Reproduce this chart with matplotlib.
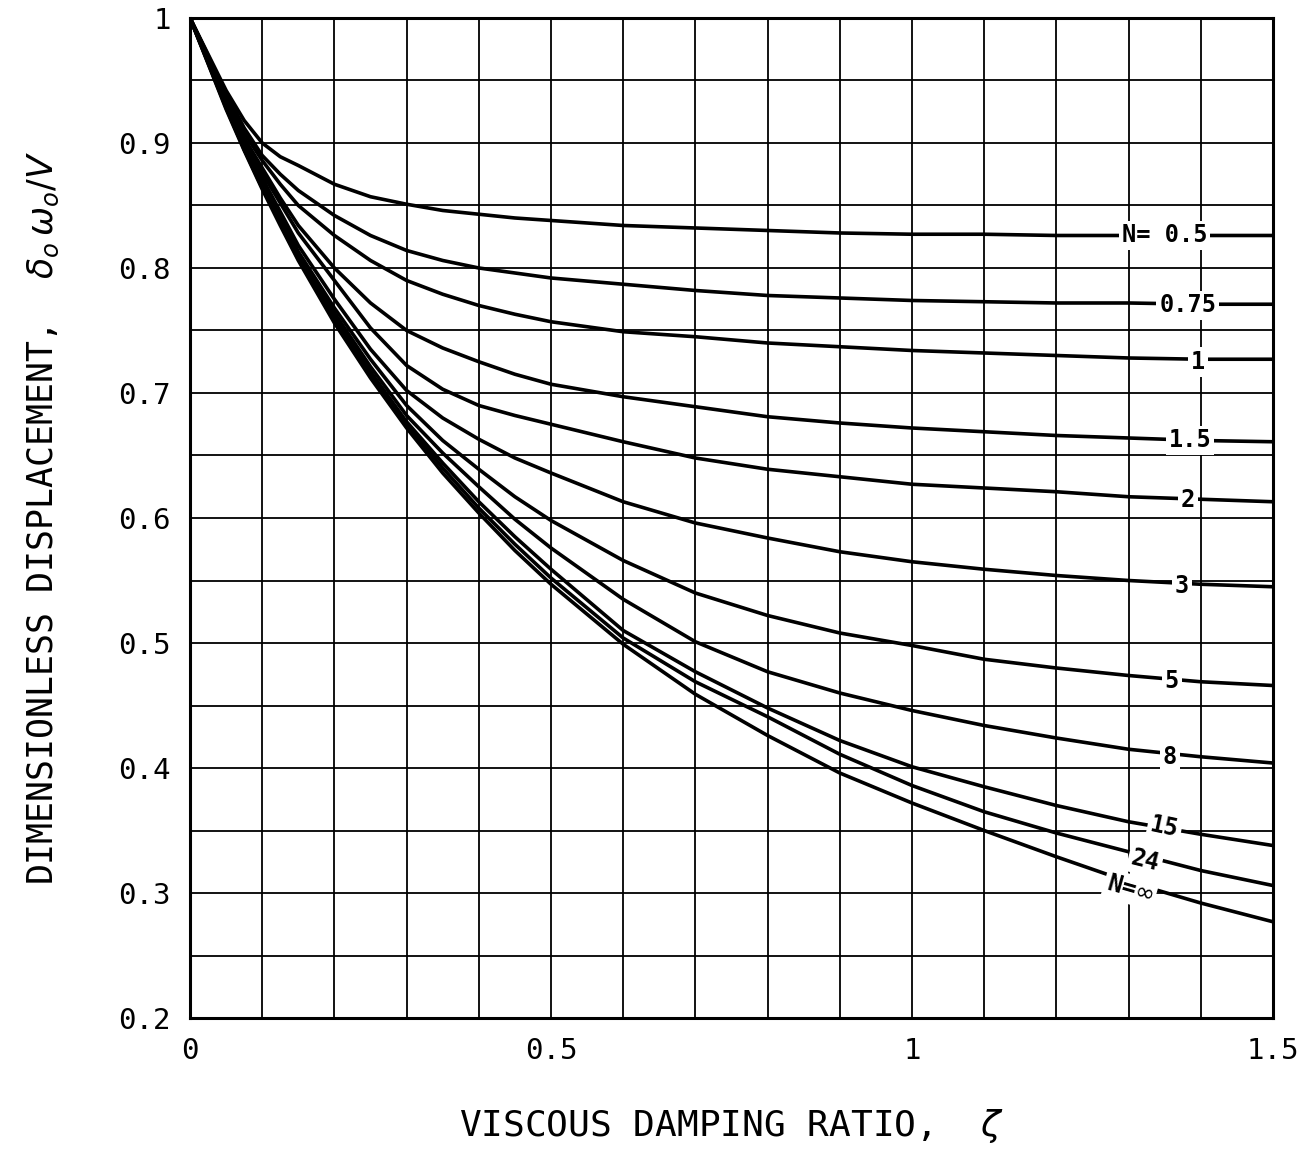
import numpy as np
import matplotlib
matplotlib.use('Agg')
import matplotlib.pyplot as plt

zeta = [0, 0.05, 0.075, 0.1, 0.125, 0.15, 0.2, 0.25, 0.3, 0.35, 0.4, 0.45, 0.5, 0.6, 0.7, 0.8, 0.9, 1.0, 1.1, 1.2, 1.3, 1.4, 1.5]

n_05 = [1.0, 0.942, 0.918, 0.900, 0.889, 0.882, 0.867, 0.857, 0.851, 0.846, 0.843, 0.840, 0.838, 0.834, 0.832, 0.830, 0.828, 0.827, 0.827, 0.826, 0.826, 0.826, 0.826]
n_075 = [1.0, 0.940, 0.912, 0.890, 0.875, 0.862, 0.842, 0.826, 0.814, 0.806, 0.800, 0.796, 0.792, 0.787, 0.782, 0.778, 0.776, 0.774, 0.773, 0.772, 0.772, 0.771, 0.771]
n_1 = [1.0, 0.939, 0.908, 0.886, 0.867, 0.850, 0.826, 0.806, 0.790, 0.779, 0.770, 0.763, 0.757, 0.749, 0.745, 0.740, 0.737, 0.734, 0.732, 0.730, 0.728, 0.727, 0.727]
n_15 = [1.0, 0.937, 0.904, 0.880, 0.856, 0.834, 0.800, 0.772, 0.750, 0.736, 0.725, 0.715, 0.707, 0.697, 0.689, 0.681, 0.676, 0.672, 0.669, 0.666, 0.664, 0.662, 0.661]
n_2 = [1.0, 0.935, 0.901, 0.876, 0.852, 0.828, 0.790, 0.752, 0.722, 0.703, 0.690, 0.682, 0.675, 0.661, 0.648, 0.639, 0.633, 0.627, 0.624, 0.621, 0.617, 0.615, 0.613]
n_3 = [1.0, 0.933, 0.899, 0.872, 0.845, 0.818, 0.775, 0.735, 0.702, 0.680, 0.663, 0.648, 0.636, 0.613, 0.596, 0.584, 0.573, 0.565, 0.559, 0.554, 0.550, 0.547, 0.545]
n_5 = [1.0, 0.931, 0.897, 0.868, 0.841, 0.813, 0.768, 0.727, 0.690, 0.662, 0.639, 0.617, 0.598, 0.566, 0.540, 0.522, 0.508, 0.498, 0.487, 0.480, 0.474, 0.469, 0.466]
n_8 = [1.0, 0.930, 0.896, 0.866, 0.839, 0.810, 0.764, 0.721, 0.682, 0.652, 0.625, 0.599, 0.576, 0.535, 0.501, 0.477, 0.460, 0.446, 0.434, 0.424, 0.415, 0.409, 0.404]
n_15c = [1.0, 0.929, 0.895, 0.865, 0.837, 0.808, 0.761, 0.717, 0.677, 0.644, 0.613, 0.585, 0.559, 0.510, 0.477, 0.448, 0.422, 0.401, 0.385, 0.370, 0.357, 0.347, 0.338]
n_24 = [1.0, 0.928, 0.895, 0.864, 0.836, 0.807, 0.759, 0.715, 0.675, 0.640, 0.608, 0.579, 0.552, 0.504, 0.469, 0.441, 0.411, 0.386, 0.365, 0.348, 0.333, 0.318, 0.306]
n_inf = [1.0, 0.927, 0.894, 0.863, 0.834, 0.806, 0.756, 0.712, 0.672, 0.636, 0.604, 0.574, 0.547, 0.499, 0.459, 0.426, 0.396, 0.372, 0.350, 0.329, 0.309, 0.292, 0.277]

curves = [n_05, n_075, n_1, n_15, n_2, n_3, n_5, n_8, n_15c, n_24, n_inf]
labels = ['N= 0.5', '0.75', '1', '1.5', '2', '3', '5', '8', '15', '24', 'N=$\\infty$']
label_x = [1.350, 1.382, 1.396, 1.385, 1.382, 1.374, 1.360, 1.357, 1.350, 1.323, 1.302]
label_y = [0.826, 0.770, 0.725, 0.662, 0.614, 0.546, 0.470, 0.409, 0.353, 0.326, 0.303]
label_rot = [0, 0, 0, 0, 0, 0, 0, 0, -12, -14, -16]

mono = 'DejaVu Sans Mono'

fig = plt.figure(figsize=(13.06, 11.52), dpi=100)
ax = fig.add_axes([0.1455, 0.1163, 0.8292, 0.8681])

for y in curves:
    ax.plot(zeta, y, color='black', lw=2.6, solid_capstyle='round', solid_joinstyle='round', zorder=3)

for txt, lx, ly, rot in zip(labels, label_x, label_y, label_rot):
    ax.text(lx, ly, txt, fontsize=17, family=mono, fontweight='bold', ha='center', va='center',
            rotation=rot, zorder=4,
            bbox=dict(facecolor='white', edgecolor='none', pad=2))

ax.set_xlim(0, 1.5)
ax.set_ylim(0.2, 1.0)
ax.set_xticks(np.arange(0, 1.51, 0.1), minor=True)
ax.set_yticks(np.arange(0.2, 1.001, 0.05), minor=True)
ax.set_xticks([0, 0.5, 1, 1.5])
ax.set_xticklabels(['0', '0.5', '1', '1.5'])
ax.set_yticks([0.2, 0.3, 0.4, 0.5, 0.6, 0.7, 0.8, 0.9, 1.0])
ax.set_yticklabels(['0.2', '0.3', '0.4', '0.5', '0.6', '0.7', '0.8', '0.9', '1'])
ax.grid(which='both', color='black', lw=1.3)
ax.tick_params(which='both', length=0, labelsize=21, pad=14)
for lab in ax.get_xticklabels() + ax.get_yticklabels():
    lab.set_family(mono)
for sp in ax.spines.values():
    sp.set_linewidth(2.2)

ax.set_xlabel('VISCOUS DAMPING RATIO,  $\\zeta$', fontsize=26, family=mono, labelpad=30)
ax.set_ylabel('DIMENSIONLESS DISPLACEMENT,  $\\delta_o\\, \\omega_o/V$', fontsize=25, family=mono, labelpad=41)

fig.savefig('out.png', dpi=100)
